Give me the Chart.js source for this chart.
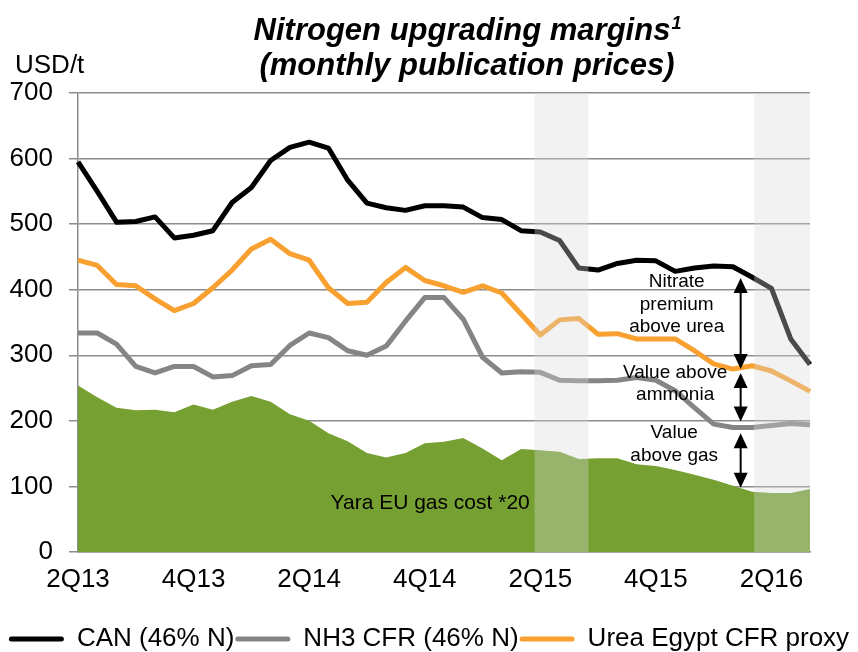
<!DOCTYPE html>
<html lang="en">
<head>
<meta charset="utf-8" />
<title>Nitrogen upgrading margins</title>
<script src="https://cdn.jsdelivr.net/npm/chart.js@4.4.0/dist/chart.umd.min.js"></script>
<style>
  html, body { margin: 0; padding: 0; background: #fff; }
  #wrap { width: 858px; height: 652px; }
</style>
</head>
<body>
<div id="wrap"><canvas id="chart" width="858" height="652"></canvas></div>
<script>
// monthly points, Apr-13 .. Jun-16
var months = [
  "Apr-13","May-13","Jun-13","Jul-13","Aug-13","Sep-13","Oct-13","Nov-13","Dec-13",
  "Jan-14","Feb-14","Mar-14","Apr-14","May-14","Jun-14","Jul-14","Aug-14","Sep-14",
  "Oct-14","Nov-14","Dec-14","Jan-15","Feb-15","Mar-15","Apr-15","May-15","Jun-15",
  "Jul-15","Aug-15","Sep-15","Oct-15","Nov-15","Dec-15","Jan-16","Feb-16","Mar-16",
  "Apr-16","May-16","Jun-16"
];
var tickLabels = ["2Q13", "4Q13", "2Q14", "4Q14", "2Q15", "4Q15", "2Q16"];

var canPrice = [595, 550, 503, 504, 511, 479, 483, 490, 533, 556, 597, 617, 625, 616, 567, 532, 525, 521, 528, 528,
  526, 510, 507, 490, 488, 475, 433, 430, 440, 445, 444, 428, 433, 436, 435, 419, 402, 325, 286];
var nh3Price = [334, 334, 317, 283, 273, 283, 283, 267, 269, 284, 286, 315, 334, 327, 307, 300, 314, 352, 388, 388,
  355, 297, 273, 275, 274, 262, 261, 261, 262, 266, 262, 246, 220, 195, 190, 190, 193, 196, 194];
var ureaPrice = [445, 437, 408, 406, 386, 368, 379, 403, 430, 462, 477, 455, 445, 403, 379, 381, 411, 434, 414, 406,
  396, 406, 395, 363, 331, 354, 356, 332, 333, 325, 325, 325, 307, 287, 279, 284, 276, 261, 245];
var gasCost = [254, 236, 220, 216, 217, 213, 225, 217, 229, 238, 229, 210, 200, 181, 169, 151, 144, 151, 166, 168,
  174, 158, 140, 157, 155, 153, 142, 143, 143, 134, 131, 125, 118, 110, 101, 92, 90, 90, 96];

// shaded periods (in month index units)
var bands = [[23.7, 26.5], [35.1, 38]];

var FONT = '"Liberation Sans", Arial, sans-serif';

// margin arrows at one month, from value to value
var arrows = [
  { x: 34.4, from: 418, to: 279 },
  { x: 34.4, from: 273, to: 199 },
  { x: 34.4, from: 181, to: 98 }
];
var notes = [
  { lines: ["Nitrate", "premium", "above urea"], x: 31.08, y: 412, size: 19 },
  { lines: ["Value above", "ammonia"], x: 31.0, y: 273.5, size: 19 },
  { lines: ["Value", "above gas"], x: 30.95, y: 181.5, size: 19 },
  { lines: ["Yara EU gas cost *20"], x: 18.28, y: 75, size: 21 }
];

var extras = {
  id: "extras",
  afterLayout: function (chart) {
    // nudge the legend row down to the bottom edge
    chart.legend.top += 10;
    chart.legend.bottom += 10;
  },
  afterDatasetsDraw: function (chart) {
    var ctx = chart.ctx, xs = chart.scales.x, ys = chart.scales.y, area = chart.chartArea;
    ctx.save();
    // grey highlight bands over everything
    ctx.fillStyle = "rgba(216,216,216,0.34)";
    bands.forEach(function (b) {
      var x0 = xs.getPixelForValue(b[0]), x1 = xs.getPixelForValue(b[1]);
      ctx.fillRect(x0, area.top, x1 - x0, area.bottom - area.top);
    });
    // arrows
    ctx.strokeStyle = "#000";
    ctx.fillStyle = "#000";
    ctx.lineWidth = 2;
    arrows.forEach(function (a) {
      var x = xs.getPixelForValue(a.x), y0 = ys.getPixelForValue(a.from), y1 = ys.getPixelForValue(a.to);
      var h = 15, w = 7;
      ctx.beginPath();
      ctx.moveTo(x, y0 + h - 2);
      ctx.lineTo(x, y1 - h + 2);
      ctx.stroke();
      ctx.beginPath();
      ctx.moveTo(x, y0); ctx.lineTo(x - w, y0 + h); ctx.lineTo(x + w, y0 + h); ctx.closePath();
      ctx.fill();
      ctx.beginPath();
      ctx.moveTo(x, y1); ctx.lineTo(x - w, y1 - h); ctx.lineTo(x + w, y1 - h); ctx.closePath();
      ctx.fill();
    });
    // notes
    ctx.textAlign = "center";
    ctx.textBaseline = "middle";
    notes.forEach(function (n) {
      ctx.font = n.size + "px " + FONT;
      var x = xs.getPixelForValue(n.x), y = ys.getPixelForValue(n.y);
      n.lines.forEach(function (t, i) {
        ctx.fillText(t, x, y + i * 22.5);
      });
    });
    ctx.restore();
  },
  afterDraw: function (chart) {
    var ctx = chart.ctx;
    ctx.save();
    ctx.fillStyle = "#000";
    ctx.textBaseline = "alphabetic";
    // title
    ctx.font = "italic bold 31px " + FONT;
    var t1 = "Nitrogen upgrading margins";
    var w1 = ctx.measureText(t1).width;
    ctx.font = "italic bold 18px " + FONT;
    var ws = ctx.measureText("1").width;
    var left = 467 - (w1 + ws) / 2;
    ctx.font = "italic bold 31px " + FONT;
    ctx.textAlign = "left";
    ctx.fillText(t1, left, 40);
    ctx.font = "italic bold 18px " + FONT;
    ctx.fillText("1", left + w1 + 1, 29);
    ctx.font = "italic bold 31px " + FONT;
    ctx.textAlign = "center";
    ctx.fillText("(monthly publication prices)", 467, 75);
    // unit
    ctx.font = "26px " + FONT;
    ctx.textAlign = "left";
    ctx.fillText("USD/t", 15, 73);
    ctx.restore();
  }
};

function line(label, data, color) {
  return {
    label: label, data: data, borderColor: color, backgroundColor: color,
    borderWidth: 5, pointRadius: 0, tension: 0, fill: false,
    borderJoinStyle: "round", yAxisID: "y"
  };
}

new Chart(document.getElementById("chart"), {
  type: "line",
  data: {
    labels: months,
    datasets: [
      line("CAN (46% N)", canPrice, "#000000"),
      line("NH3 CFR (46% N)", nh3Price, "#858585"),
      line("Urea Egypt CFR proxy", ureaPrice, "#F8A030"),
      {
        label: "Yara EU gas cost *20", data: gasCost, fill: "origin",
        backgroundColor: "#77A032", borderWidth: 0, pointRadius: 0, tension: 0, yAxisID: "y"
      }
    ]
  },
  options: {
    responsive: false,
    animation: false,
    layout: { padding: { top: 93, left: 0, right: 0, bottom: 0 } },
    plugins: {
      title: { display: false },
      tooltip: { enabled: false },
      legend: {
        position: "bottom",
        labels: {
          font: { family: FONT, size: 26 },
          color: "#000",
          boxWidth: 55,
          boxHeight: 5,
          padding: 1,
          filter: function (item) { return item.datasetIndex < 3; },
          generateLabels: function (chart) {
            return chart.data.datasets.map(function (ds, i) {
              return {
                text: ds.label, fillStyle: ds.borderColor, strokeStyle: ds.borderColor,
                lineWidth: 0, borderRadius: 2.5, hidden: false, datasetIndex: i
              };
            });
          }
        }
      }
    },
    scales: {
      x: {
        grid: { display: false, drawTicks: false },
        border: { display: true, color: "#8c8c8c", width: 1.5 },
        ticks: {
          autoSkip: false, maxRotation: 0, padding: 12,
          font: { family: FONT, size: 26 }, color: "#000",
          callback: function (v, i) { return i % 6 === 0 ? tickLabels[i / 6] : ""; }
        },
        afterFit: function (s) { s.height = 63; }
      },
      y: {
        min: 0, max: 700,
        grid: { color: "#8c8c8c", lineWidth: 1.5, tickLength: 9 },
        border: { color: "#8c8c8c", width: 1.5 },
        ticks: { stepSize: 100, padding: 16, font: { family: FONT, size: 26 }, color: "#000" },
        afterFit: function (s) { s.width = 78; }
      },
      r: {
        position: "right",
        grid: { display: false, drawOnChartArea: false, drawTicks: false },
        border: { display: false },
        ticks: { display: false },
        afterFit: function (s) { s.width = 48; }
      }
    }
  },
  plugins: [extras]
});
</script>
</body>
</html>
